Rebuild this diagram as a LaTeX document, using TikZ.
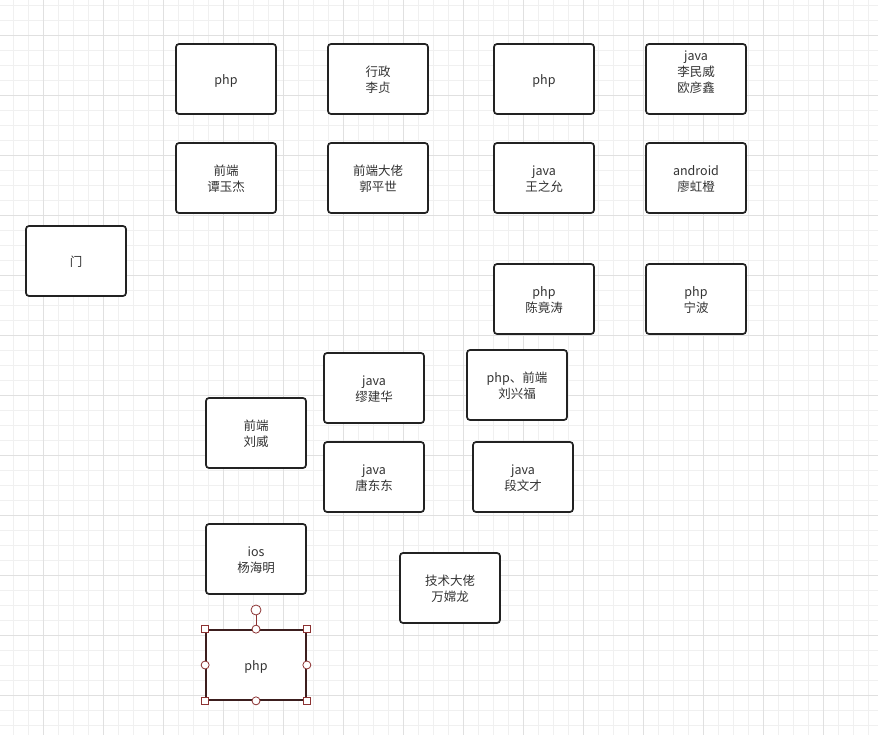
\documentclass[tikz,border=0pt]{standalone}
\usepackage{fontspec}
\setmainfont{Noto Sans CJK SC}
\definecolor{deskline}{RGB}{34,34,34}
\definecolor{desktext}{RGB}{51,51,51}
\definecolor{gridminor}{RGB}{240,240,240}
\definecolor{gridmajor}{RGB}{224,224,224}
\definecolor{handle}{RGB}{140,50,50}
\definecolor{selline}{RGB}{60,30,30}
% 格子里的文字 (可选参数: 竖直偏移)
\newcommand{\desktext}[2][-2pt]{\raisebox{#1}[\height][\depth]{\begin{tabular}{@{}c@{}}#2\end{tabular}}}
\tikzset{
  desk/.style={draw=deskline, line width=1.7pt, rounded corners=3pt, fill=white,
    minimum width=100pt, minimum height=70pt, inner sep=0pt,
    text=desktext, font=\fontsize{12.5pt}{16pt}\selectfont},
  seldesk/.style={desk, draw=selline, rounded corners=0pt},
  sqhandle/.style={draw=handle, fill=white, line width=0.8pt, minimum size=7pt, inner sep=0pt},
  cirhandle/.style={draw=handle, fill=white, line width=0.8pt, circle, minimum size=8pt, inner sep=0pt}
}
\begin{document}
\begin{tikzpicture}[x=1pt, y=-1pt]
  \useasboundingbox (0,0) rectangle (878,735);
  \fill[white] (0,0) rectangle (878,735);

  % 背景网格
  \foreach \k in {0,...,58} {
    \draw[gridminor, line width=0.8pt] ({13.3+15*\k},0) -- ({13.3+15*\k},735);
  }
  \foreach \k in {0,...,49} {
    \draw[gridminor, line width=0.8pt] (0,{5+15*\k}) -- (878,{5+15*\k});
  }
  \foreach \k in {0,...,14} {
    \draw[gridmajor, line width=0.8pt] ({43.3+60*\k},0) -- ({43.3+60*\k},735);
  }
  \foreach \k in {0,...,12} {
    \draw[gridmajor, line width=0.8pt] (0,{35+60*\k}) -- (878,{35+60*\k});
  }

  % 第一排
  \node[desk] (php1)   at (226,79)  {\desktext{php}};
  \node[desk] (xingzh) at (378,79)  {\desktext{行政\\李贞}};
  \node[desk] (php2)   at (544,79)  {\desktext{php}};
  \node[desk] (java1)  at (696,79)  {\desktext[6pt]{java\\李民威\\欧彦鑫}};

  % 第二排
  \node[desk] (qd1)     at (226,178) {\desktext{前端\\谭玉杰}};
  \node[desk] (qddalao) at (378,178) {\desktext{前端大佬\\郭平世}};
  \node[desk] (java2)   at (544,178) {\desktext{java\\王之允}};
  \node[desk] (andr)    at (696,178) {\desktext{android\\廖虹橙}};

  % 门
  \node[desk] (door) at (76,261) {\desktext{门}};

  % 第三排
  \node[desk] (php3) at (544,299) {\desktext{php\\陈竟涛}};
  \node[desk] (php4) at (696,299) {\desktext{php\\宁波}};

  % 中间区域
  \node[desk] (java3) at (374,388) {\desktext{java\\缪建华}};
  \node[desk] (phpqd) at (517,385) {\desktext{php、前端\\刘兴福}};
  \node[desk] (qd2)   at (256,433) {\desktext{前端\\刘威}};
  \node[desk] (java4) at (374,477) {\desktext{java\\唐东东}};
  \node[desk] (java5) at (523,477) {\desktext{java\\段文才}};
  \node[desk] (ios)   at (256,559) {\desktext{ios\\杨海明}};
  \node[desk] (jsdalao) at (450,588) {\desktext{技术大佬\\万嫦龙}};

  % 选中的格子
  \node[seldesk] (php5) at (256,665) {\desktext{php}};
  \coordinate (rot) at (256,610);
  \draw[handle, line width=0.8pt] (php5.north) -- (rot);
  \node[cirhandle, minimum size=10pt] (rothd) at (rot) {};
  \foreach \a in {north west, north east, south west, south east} {
    \node[sqhandle] at (php5.\a) {};
  }
  \foreach \a in {north, south, west, east} {
    \node[cirhandle] at (php5.\a) {};
  }
\end{tikzpicture}
\end{document}
